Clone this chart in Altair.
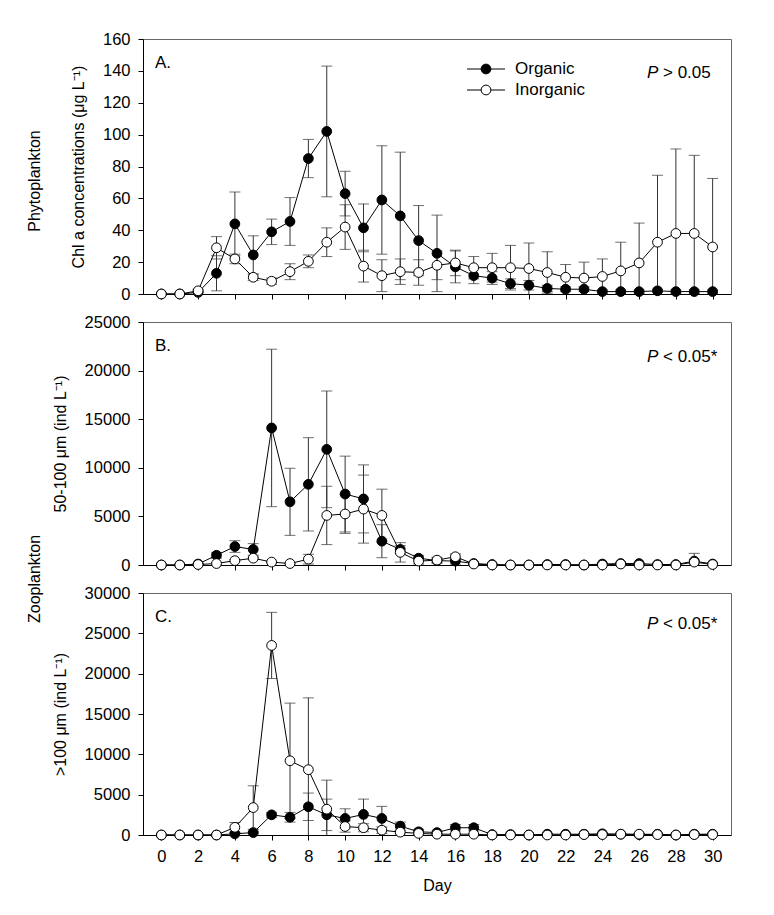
import altair as alt
import pandas as pd

FONT = "Liberation Sans"

days = list(range(31))

# Panel A: Chl a (ug/L)
chl_org_mean = [0, 0, 1, 13, 44, 24.5, 39, 45.5, 85, 102, 63, 41.5, 59, 49, 33.5, 25.5,
                17, 11.5, 10, 6.5, 5.5, 3.5, 3, 3, 1.5, 1.5, 1.5, 2, 1.5, 1.5, 1.5]
chl_org_sd = [0, 0, 1, 11, 20, 12, 8, 15, 12, 41, 14, 15, 34, 40, 22, 24,
              10, 5, 4, 3, 3, 2, 1.5, 1.5, 1, 1, 1, 1, 1, 1, 1]
chl_ino_mean = [0, 0, 2, 29, 22, 10.5, 8, 14, 20.5, 32.5, 42, 17.5, 11.5, 14, 13.5, 18,
                19.5, 16.5, 16.5, 16.5, 16, 13.5, 10.5, 10, 11, 14.5, 19.5, 32.5, 38, 38, 29.5]
chl_ino_sd = [0, 0, 1, 7, 3, 2, 2, 5, 4, 9, 14, 10, 10, 8, 8, 9,
              8, 7, 9, 14, 16, 13, 8, 10, 11, 18, 25, 42, 53, 49, 43]

# Panel B: zooplankton 50-100 um (ind/L)
z50_org_mean = [0, 0, 100, 1000, 1900, 1600, 14100, 6500, 8300, 11900, 7300, 6800, 2450, 1600, 700, 450,
                400, 150, 50, 0, 0, 50, 50, 0, 100, 150, 150, 50, 50, 400, 100]
z50_org_sd = [0, 0, 50, 300, 600, 600, 8100, 3450, 4800, 6000, 3900, 3500, 1700, 400, 300, 200,
              300, 100, 50, 0, 0, 50, 50, 0, 100, 100, 100, 50, 50, 800, 100]
z50_ino_mean = [0, 0, 50, 150, 450, 700, 300, 150, 600, 5100, 5250, 5750, 5100, 1300, 400, 500,
                850, 100, 0, 0, 0, 0, 0, 0, 0, 100, 0, 0, 0, 300, 50]
z50_ino_sd = [0, 0, 20, 50, 100, 100, 50, 50, 500, 3000, 2000, 3500, 2700, 1000, 300, 300,
              300, 50, 0, 0, 0, 0, 0, 0, 0, 50, 0, 0, 0, 200, 50]

# Panel C: zooplankton >100 um (ind/L)
z100_org_mean = [0, 0, 0, 0, 150, 300, 2500, 2200, 3500, 2500, 2050, 2550, 2050, 1100, 400, 300,
                 900, 900, 50, 50, 0, 100, 100, 100, 150, 100, 50, 100, 0, 100, 100]
z100_org_sd = [0, 0, 0, 0, 150, 100, 300, 600, 1700, 1950, 1200, 1900, 1500, 500, 300, 200,
               400, 400, 50, 50, 0, 50, 50, 50, 100, 100, 50, 100, 0, 100, 100]
z100_ino_mean = [0, 0, 0, 0, 950, 3400, 23500, 9200, 8100, 3200, 1050, 900, 600, 350, 200, 100,
                 100, 100, 0, 0, 0, 0, 0, 50, 50, 100, 100, 50, 0, 50, 50]
z100_ino_sd = [0, 0, 0, 0, 600, 2700, 4100, 7150, 8900, 3600, 700, 500, 400, 200, 100, 50,
               50, 50, 0, 0, 0, 0, 0, 50, 50, 100, 100, 50, 0, 50, 50]

x_tick_values = list(range(0, 31, 2))


def make_df(om, osd, im, isd):
    rows = []
    for name, ms, ss in (("Organic", om, osd), ("Inorganic", im, isd)):
        for d, m, s in zip(days, ms, ss):
            rows.append(dict(day=d, series=name, mean=m, sd=s, lo=max(0, m - s), hi=m + s))
    return pd.DataFrame(rows)


def text_layer(label, x, y, size=17, align="left", style="normal", angle=0):
    return alt.Chart(pd.DataFrame({"t": [label]})).mark_text(
        font=FONT, fontSize=size, align=align, baseline="middle", color="black",
        fontStyle=style, angle=angle
    ).encode(text="t:N", x=alt.value(x), y=alt.value(y))


def panel(df, ymax, ystep, ytitle, height, letter, pop, pval, p_y, show_x, extra=None):
    xscale = alt.Scale(domain=[-1, 31], nice=False, zero=False)
    yscale = alt.Scale(domain=[0, ymax], nice=False)
    if show_x:
        xaxis = alt.Axis(values=x_tick_values, labelPadding=8, titlePadding=13, format="d")
        xenc = alt.X("day:Q", scale=xscale, axis=xaxis, title="Day")
    else:
        xaxis = alt.Axis(values=x_tick_values, labels=False)
        xenc = alt.X("day:Q", scale=xscale, axis=xaxis, title=None)
    yaxis = alt.Axis(values=list(range(0, ymax + 1, ystep)), format="d", labelPadding=8,
                     titlePadding=16, labelOverlap=False)

    def yenc(field):
        return alt.Y(field, scale=yscale, axis=yaxis, title=ytitle)

    base = alt.Chart(df)
    err_df = df[df["sd"] > 0]
    rule = alt.Chart(err_df).mark_rule(color="#333", strokeWidth=1).encode(
        x=xenc, y=yenc("lo:Q"), y2="hi:Q")
    cap_hi = alt.Chart(err_df).mark_tick(orient="horizontal", size=11, thickness=1,
                                          color="#333").encode(x=xenc, y=yenc("hi:Q"))
    cap_lo = alt.Chart(err_df[err_df["lo"] > 0]).mark_tick(orient="horizontal", size=11,
                                                           thickness=1, color="#333").encode(
        x=xenc, y=yenc("lo:Q"))
    lines = base.mark_line(color="black", strokeWidth=1).encode(
        x=xenc, y=yenc("mean:Q"), detail="series:N")
    pts_org = base.transform_filter(alt.datum.series == "Organic").mark_point(
        shape="circle", filled=True, fill="black", stroke="black", strokeWidth=1,
        size=95, opacity=1).encode(x=xenc, y=yenc("mean:Q"))
    pts_ino = base.transform_filter(alt.datum.series == "Inorganic").mark_point(
        shape="circle", filled=True, fill="white", stroke="black", strokeWidth=1,
        size=95, opacity=1).encode(x=xenc, y=yenc("mean:Q"))

    layers = [rule, cap_hi, cap_lo, lines, pts_org, pts_ino,
              text_layer(letter, 12, 24),
              text_layer("P", 504, p_y, style="italic"),
              text_layer(pop + " " + pval, 520, p_y)]
    if extra:
        layers += extra
    return alt.layer(*layers).properties(width=588, height=height)


# Legend (panel A)
legend_layers = []
for i, (name, fill) in enumerate((("Organic", "black"), ("Inorganic", "white"))):
    yy = 30 + i * 21
    legend_layers.append(alt.Chart(pd.DataFrame({"t": [name]})).mark_rule(
        color="black", strokeWidth=1).encode(x=alt.value(324), x2=alt.value(362), y=alt.value(yy)))
    legend_layers.append(alt.Chart(pd.DataFrame({"t": [name]})).mark_point(
        shape="circle", filled=True, fill=fill, stroke="black", strokeWidth=1, size=95,
        opacity=1).encode(x=alt.value(343), y=alt.value(yy)))
    legend_layers.append(text_layer(name, 372, yy))

legend_layers.append(text_layer("Phytoplankton", -108, 142, size=16, angle=270, align="center"))

dfA = make_df(chl_org_mean, chl_org_sd, chl_ino_mean, chl_ino_sd)
dfB = make_df(z50_org_mean, z50_org_sd, z50_ino_mean, z50_ino_sd)
dfC = make_df(z100_org_mean, z100_org_sd, z100_ino_mean, z100_ino_sd)

A = panel(dfA, 160, 20, "Chl a concentrations (μg L⁻¹)", 255, "A.", ">", "0.05", 34, False,
          extra=legend_layers)
B = panel(dfB, 25000, 5000, "50-100 μm (ind L⁻¹)", 243, "B.", "<", "0.05*", 35, False)
C = panel(dfC, 30000, 5000, ">100 μm (ind L⁻¹)", 242, "C.", "<", "0.05*", 31, True,
          extra=[text_layer("Zooplankton", -108, -14, size=16, angle=270, align="center")])

chart = alt.vconcat(A, B, C, spacing=28, bounds="flush").properties(
    padding={"left": 18, "top": 22, "right": 5, "bottom": 5}
).configure_view(stroke="#666", strokeWidth=1).configure_axis(
    grid=False, domainColor="black", tickColor="black", tickSize=5,
    labelFont=FONT, labelFontSize=16.5, labelColor="black",
    titleFont=FONT, titleFontSize=16, titleFontWeight="normal", titleColor="black"
)

chart.save("out.html", embed_options={"renderer": "svg", "actions": False})
